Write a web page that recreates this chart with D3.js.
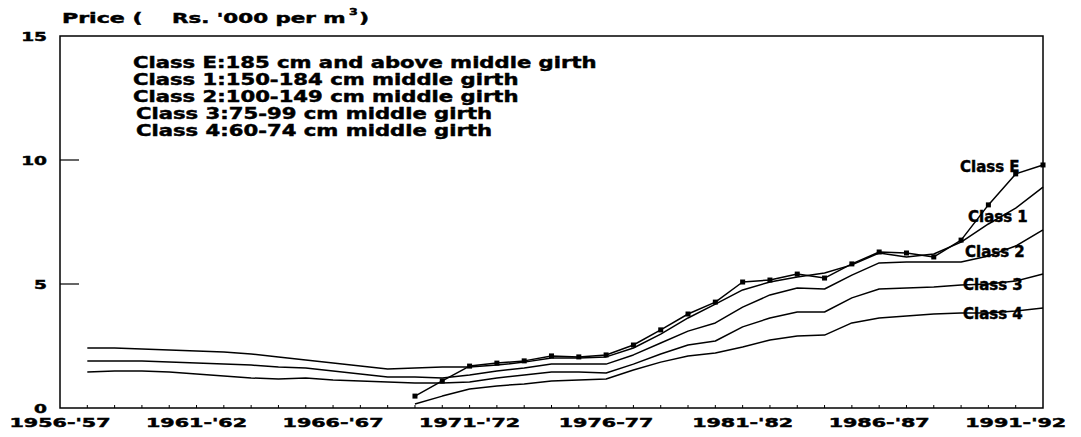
<!DOCTYPE html>
<html><head><meta charset="utf-8">
<script src="https://cdn.jsdelivr.net/npm/d3@7"></script>
<style>body{margin:0;background:#fff}svg{display:block}text{font-family:"DejaVu Sans",sans-serif;font-weight:bold;fill:#000;stroke:#000;stroke-width:0.45px}</style>
</head><body>
<script>
// categories: start year of each fiscal year on the axis
const startYears = d3.range(1956, 1993);
const tickYears = [1956, 1961, 1966, 1971, 1976, 1981, 1986, 1991];
const tickLabels = ["1956-'57", "1961-'62", "1966-'67", "1971-'72", "1976-77", "1981-'82", "1986-'87", "1991-'92"];
const yTicks = [0, 5, 10, 15];
const earlyYears = d3.range(1957, 1993);
const lateYears = d3.range(1969, 1993);

// price series (Rs. '000 per m3)
const classOne = [2.42,2.42,2.38,2.34,2.30,2.26,2.18,2.06,1.94,1.81,1.69,1.57,1.61,1.65,1.65,1.73,1.85,2.02,2.02,2.06,2.42,2.98,3.63,4.19,4.76,5.08,5.28,5.44,5.77,6.25,6.09,6.21,6.69,7.42,8.06,8.91];
const classTwo = [1.90,1.90,1.90,1.85,1.81,1.77,1.73,1.65,1.61,1.49,1.37,1.25,1.25,1.21,1.33,1.49,1.61,1.77,1.77,1.77,2.14,2.62,3.10,3.43,4.07,4.56,4.84,4.80,5.36,5.85,5.89,5.89,5.89,6.13,6.53,7.18];
const classThree = [1.45,1.49,1.49,1.45,1.37,1.29,1.21,1.17,1.21,1.13,1.09,1.05,1.01,1.01,1.05,1.21,1.33,1.45,1.45,1.41,1.77,2.18,2.54,2.70,3.27,3.63,3.87,3.87,4.44,4.80,4.84,4.88,4.96,5.00,5.12,5.40];
const classFour = [0.16,0.48,0.77,0.89,0.97,1.09,1.13,1.17,1.53,1.85,2.10,2.22,2.46,2.74,2.90,2.94,3.43,3.63,3.71,3.79,3.83,3.83,3.91,4.03];
const classE = [0.48,1.09,1.69,1.81,1.90,2.10,2.06,2.14,2.54,3.15,3.79,4.27,5.08,5.16,5.40,5.24,5.81,6.29,6.25,6.09,6.77,8.19,9.44,9.80];

const legendLines = [
  "Class E:185 cm and above middle girth",
  "Class 1:150-184 cm middle girth",
  "Class 2:100-149 cm middle girth",
  "Class 3:75-99 cm middle girth",
  "Class 4:60-74 cm middle girth"
];
const seriesLabels = ["Class E", "Class 1", "Class 2", "Class 3", "Class 4"];

const W = 1081, H = 437;
const svg = d3.select("body").append("svg").attr("width", W).attr("height", H);

const x = d3.scalePoint().domain(startYears).range([60, 1043]);
const y = d3.scaleLinear().domain([0, 15]).range([408, 36]);

function wide(sel, px, py, str, size, sx, anchor) {
  return sel.append("text")
    .attr("transform", `translate(${px},${py}) scale(${sx},1)`)
    .attr("font-size", size)
    .attr("text-anchor", anchor || "start")
    .text(str);
}

// frame
svg.append("rect").attr("x", x.range()[0]).attr("y", y(15))
  .attr("width", x.range()[1] - x.range()[0]).attr("height", y(0) - y(15))
  .attr("fill", "none").attr("stroke", "#000").attr("stroke-width", 1.5);

// bottom minor ticks
svg.append("g").selectAll("line").data(startYears.slice(1, -1)).join("line")
  .attr("x1", d => x(d)).attr("x2", d => x(d))
  .attr("y1", y(0)).attr("y2", y(0) - 3)
  .attr("stroke", "#000").attr("stroke-width", 1);

// y ticks
svg.append("g").selectAll("line").data(yTicks.filter(v => v > 0 && v < 15)).join("line")
  .attr("x1", x.range()[0]).attr("x2", x.range()[0] + 19)
  .attr("y1", d => y(d)).attr("y2", d => y(d))
  .attr("stroke", "#000").attr("stroke-width", 1.2);

// y labels
yTicks.forEach(v => wide(svg, 47, y(v) + 4.5, String(v), 12, 1.55, "end"));

// x labels
tickYears.forEach((yr, i) => wide(svg, x(yr), 427, tickLabels[i], 12, 1.72, "middle"));

// title
wide(svg, 62, 23, "Price (", 14, 1.58);
wide(svg, 172, 23, "Rs. '000 per m", 14, 1.53);
wide(svg, 349, 15, "3", 9, 1.4);
wide(svg, 359, 23, ")", 14, 1.58);

// legend
const legendX = [133, 133, 133, 136, 136];
legendLines.forEach((t, i) => wide(svg, legendX[i], 68 + i * 17, t, 15, 1.41));

// lines
const line = d3.line().x(d => x(d.year)).y(d => y(d.v));
const series = [
  {name: "Class E", years: lateYears, vals: classE},
  {name: "Class 1", years: earlyYears, vals: classOne},
  {name: "Class 2", years: earlyYears, vals: classTwo},
  {name: "Class 3", years: earlyYears, vals: classThree},
  {name: "Class 4", years: lateYears, vals: classFour}
];
series.forEach(s => {
  const pts = s.years.map((yr, i) => ({year: yr, v: s.vals[i]}));
  svg.append("path").datum(pts).attr("d", line)
    .attr("fill", "none").attr("stroke", "#000").attr("stroke-width", 1.5)
    .attr("stroke-linejoin", "round");
  if (s.name === "Class E") {
    svg.append("g").selectAll("rect").data(pts).join("rect")
      .attr("x", d => x(d.year) - 2.5).attr("y", d => y(d.v) - 2.5)
      .attr("width", 5).attr("height", 5).attr("fill", "#000");
  }
});

// series labels at right
const labelPos = [[960, 172], [968, 222], [965, 257], [963, 290], [963, 319]];
seriesLabels.forEach((t, i) => wide(svg, labelPos[i][0], labelPos[i][1], t, 15, 1.0));
</script>
</body></html>
